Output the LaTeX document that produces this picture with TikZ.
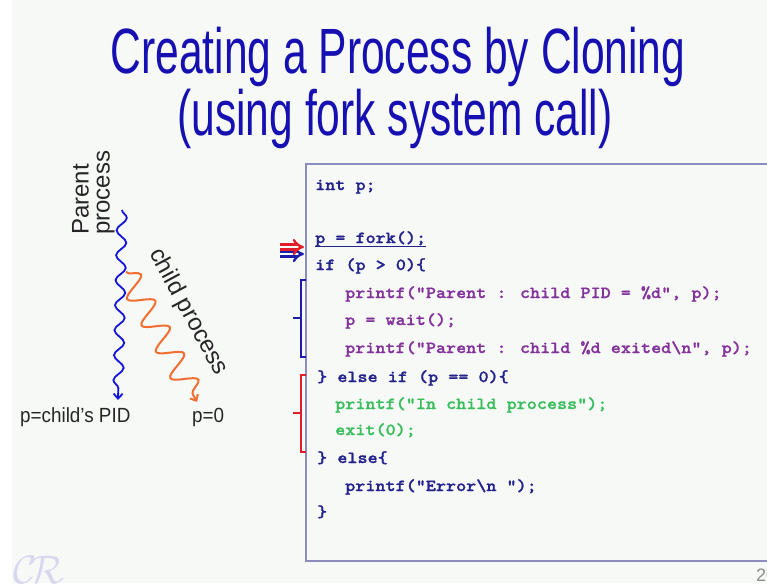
\documentclass[tikz,border=0pt]{standalone}
\usepackage{fontspec}
\setmainfont{Liberation Sans}
\newfontfamily\codefont[FakeStretch=1.13,FakeBold=1.2]{lmmonolt10-bold.otf}
\newfontfamily\titlefont[FakeStretch=0.665]{Liberation Sans}
\newfontfamily\labelfont[FakeStretch=0.92]{Liberation Sans}
\usetikzlibrary{decorations.pathmorphing,arrows.meta}
\definecolor{titleblue}{RGB}{22,16,178}
\definecolor{codenavy}{RGB}{36,34,140}
\definecolor{codepurple}{RGB}{132,50,156}
\definecolor{codegreen}{RGB}{58,190,92}
\definecolor{waveblue}{RGB}{20,20,220}
\definecolor{waveorange}{RGB}{240,110,50}
\definecolor{boxframe}{RGB}{140,140,190}
\definecolor{bracketblue}{RGB}{28,28,170}
\definecolor{bracketred}{RGB}{225,30,40}
\definecolor{bg}{RGB}{247,249,247}
\definecolor{logo}{RGB}{215,215,240}
\tikzset{
    titletext/.style={anchor=base,inner sep=0pt,text=titleblue,font=\titlefont\fontsize{64}{64}\selectfont},
    code/.style={anchor=base west,inner sep=0pt,font=\codefont\fontsize{17}{20}\selectfont},
    result/.style={anchor=base west,inner sep=0pt,text=black!85,font=\labelfont\fontsize{20.5}{20.5}\selectfont},
    proclabel/.style={inner sep=0pt,text=black!85,font=\fontsize{24}{21}\selectfont},
    bracket/.style={line width=2pt},
    forkarrow/.style={double,double distance=2.8pt,line width=2.4pt,-{Implies[scale=1.8]}},
  }

\begin{document}
\begin{tikzpicture}[x=1pt,y=-1pt]
				  %fond
				  \useasboundingbox (0,0) rectangle (767,583);
				  \clip (0,0) rectangle (767,583);
				  \fill[white] (0,0) rectangle (767,583);
				  \fill[bg] (12,0) rectangle (767,583);

				  %titre
				  \node[titletext] (title1) at (398,74) {Creating a Process by Cloning};
				  \node[titletext] (title2) at (395,135) {(using fork system call)};

				  %cadre du code
				  \draw[boxframe,line width=2pt] (306,164) rectangle (800,561);

				  %code
				  \node[code,codenavy] (intp) at (315,190) {int p;};
				  \node[code,codenavy] (fork) at (315,243) {p = fork();};
				  \draw[codenavy,line width=1pt] ([yshift=-3pt]fork.base west) -- ([yshift=-3pt]fork.base east);
				  \node[code,codenavy] (ifpos) at (315,270) {if (p > 0)\{};
				  \node[code,codepurple] (pprint) at (345,298) {printf(“Parent : child PID = \%d”, p);};
				  \node[code,codepurple] (pwait) at (345,325) {p = wait();};
				  \node[code,codepurple] (pexit) at (345,353) {printf(“Parent : child \%d exited\textbackslash n”, p);};
				  \node[code,codenavy] (elif) at (317,382) {\} else if (p == 0)\{};
				  \node[code,codegreen] (cprint) at (335,409) {printf(“In child process”);};
				  \node[code,codegreen] (cexit) at (335,435) {exit(0);};
				  \node[code,codenavy] (els) at (317,463) {\} else\{};
				  \node[code,codenavy] (eprint) at (345,491) {printf(“Error\textbackslash n ”);};
				  \node[code,codenavy] (close) at (317,517) {\}};

				  %fleches sur fork
				  \coordinate (bluetail) at (280,254);
				  \coordinate (redtail) at (280,247);
				  \draw[forkarrow,bracketblue] (bluetail) -- ([xshift=-11pt]bluetail -| fork.west);
				  \draw[forkarrow,bracketred] (redtail) -- ([xshift=-11pt]redtail -| fork.west);

				  %accolades
				  \draw[bracket,bracketblue] (306,280) -- (301,280) -- (301,357) -- (306,357) (301,318) -- (293,318);
				  \draw[bracket,bracketred] (306,375) -- (301,375) -- (301,452) -- (306,452) (301,413) -- (293,413);

				  %processus
				  \node[proclabel,rotate=90,anchor=north west,align=left] (parent) at (72,235) {Parent\\process};
				  \node[proclabel,rotate=-61.6] (child) at (188,312) {child process};
				  \node[result] (pid) at (20,422) {p=child’s PID};
				  \node[result] (zero) at (192,422) {p=0};
				  \coordinate (ptop) at (122,210);
				  \coordinate (split) at (126,272);
				  \coordinate (pend) at (118,400);
				  \coordinate (cend) at (197,402);
				  \draw[waveblue,line width=1.8pt,-{Straight Barb[length=5pt,width=9pt]},decorate,decoration={snake,segment length=25pt,amplitude=5pt,post length=6pt}] (ptop) -- (pend);
				  \draw[waveorange,line width=2pt,-{Straight Barb[length=5pt,width=9pt]},decorate,decoration={snake,segment length=30pt,amplitude=12pt,post length=8pt}] (split) -- (cend);

				  %logo et page
				  \node[text=logo,scale=1.6,font=\fontsize{24.88}{24}\selectfont] (logo) at (39,570) {$\mathcal{C}\!\mathcal{R}$};
				  \node[anchor=base west,inner sep=0pt,text=black!45,font=\fontsize{18}{18}\selectfont] (pageno) at (756,581) {20};
\end{tikzpicture}
\end{document}
